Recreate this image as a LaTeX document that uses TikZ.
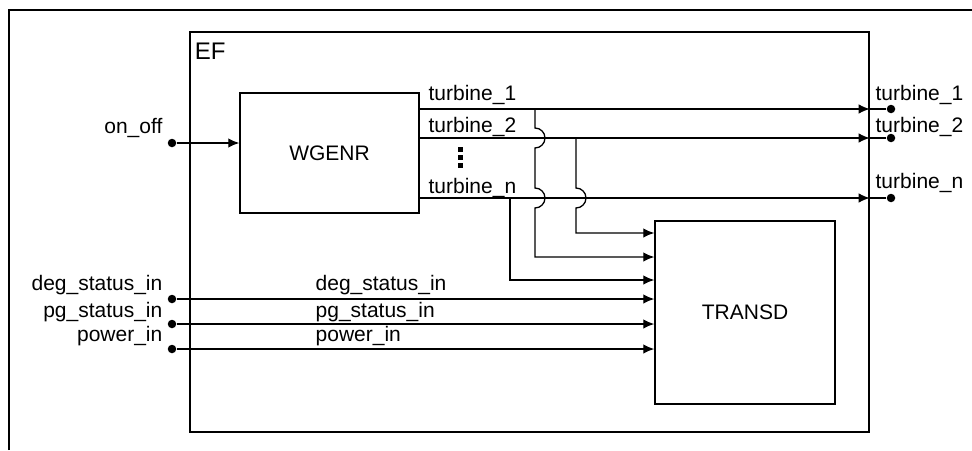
\documentclass[tikz,border=0pt]{standalone}
\usepackage{fontspec}
\setmainfont{Liberation Sans}
\usetikzlibrary{positioning,arrows.meta}
\tikzset{every picture/.style={>={Latex[length=11pt,width=9.5pt]}}}

\begin{document}
\begin{tikzpicture}[
    x=1pt, y=-1pt,
    line width=1.3pt,
    every node/.style={font=\fontsize{21}{25}\selectfont, inner sep=0pt},
    blk/.style={draw, line width=1.4pt},
    port/.style={circle, fill, minimum size=8.5pt}
]

\useasboundingbox (0,0) rectangle (972,450);

% ------------------------------------------------------------
% Frames and blocks
% ------------------------------------------------------------

% outer frame
\draw[line width=2.4pt] (9,450) -- (9,10) -- (972,10);

% EF block
\node[blk, minimum width=679pt, minimum height=400pt] (ef) at (529.5,232) {};
\node[font=\fontsize{24}{28}\selectfont, anchor=north west] (eflabel) at ([shift={(5pt,-11pt)}]ef.north west) {EF};

\node[blk, minimum width=179pt, minimum height=120pt] (wgenr) at (329.5,153) {WGENR};
\node[blk, minimum width=180pt, minimum height=183pt] (transd) at (745,312.5) {TRANSD};

% ------------------------------------------------------------
% Ports
% ------------------------------------------------------------

\node[port] (onoff) at (172,143) {};
\node[anchor=east] (lonoff) at (163,128) {on\_off};
\draw[->] (onoff) -- (wgenr.west |- onoff);

% turbine outputs
\foreach \n/\y/\la/\lb in {1/109/95/95, 2/138/127/127, n/198/188/183}{
  \coordinate (t\n) at (419,\y);
  \node[port] (o\n) at (891,\y) {};
  \draw[->] (t\n) -- (ef.east |- t\n);
  \draw (ef.east |- t\n) -- (o\n);
  \node[anchor=west] (lt\n) at (428,\la) {turbine\_\n};
  \node[anchor=west] (lo\n) at (875,\lb) {turbine\_\n};
}

% vertical dots
\foreach \y in {147,155,163}
  \fill (458,\y) rectangle ++(4.5,4.5);

% inputs of TRANSD
\foreach \nm/\y/\ly/\txt in {deg/299/285/deg\_status\_in, pg/324/312/pg\_status\_in, pow/349/336/power\_in}{
  \node[port] (\nm) at (172,\y) {};
  \node[anchor=east] (l\nm) at (163,\ly) {\txt};
  \node[anchor=west] (w\nm) at (315,\ly) {\txt};
  \draw[->] (\nm) -- (transd.west |- \nm);
}

% ------------------------------------------------------------
% Branches with hops
% ------------------------------------------------------------

\coordinate (b1) at (535,109);
\coordinate (b2) at (576,138);
\coordinate (bn) at (510,198);

\draw[->] (b1) -- (535,128) arc[start angle=90, end angle=-90, radius=10pt]
  -- (535,188) arc[start angle=90, end angle=-90, radius=10pt]
  -- (535,257) -- (transd.west |- 535,257);
\draw[->] (b2) -- (576,188) arc[start angle=90, end angle=-90, radius=10pt]
  -- (576,233) -- (transd.west |- 576,233);
\draw[->] (bn) -- (510,280) -- (transd.west |- 510,280);

\end{tikzpicture}
\end{document}
